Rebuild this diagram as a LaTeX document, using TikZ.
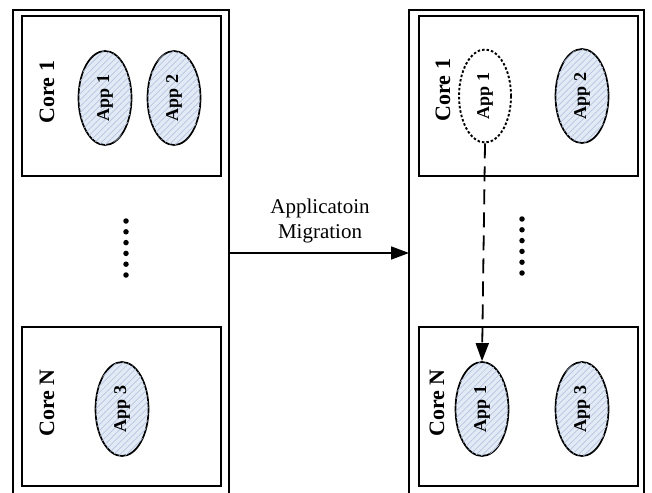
\documentclass[tikz,border=0pt]{standalone}
\usepackage{fontspec}
\setmainfont{Liberation Serif}
\usetikzlibrary{shapes.geometric,arrows.meta,patterns.meta}
\definecolor{appfill}{HTML}{E2EAF6}
\definecolor{apphatch}{HTML}{B6C5E0}
\tikzset{
  frame/.style={draw, line width=2pt, inner sep=0pt, outer sep=0pt},
  corebox/.style={frame, line width=1.9pt},
  app/.style={ellipse, draw, line width=1.7pt, minimum width=53pt, minimum height=94pt,
    inner sep=0pt, fill=appfill,
    postaction={pattern={Lines[angle=45,distance=4.5pt,line width=0.7pt]}, pattern color=apphatch}},
  ghost/.style={ellipse, draw, line width=1.9pt, dash pattern=on 2.5pt off 2pt,
    minimum width=52pt, minimum height=93pt, inner sep=0pt},
  applabel/.style={rotate=90, font=\bfseries\fontsize{18}{20}\selectfont, inner sep=0pt},
  corelabel/.style={rotate=90, font=\bfseries\fontsize{22}{24}\selectfont, inner sep=0pt},
  dotmark/.style={circle, fill=black, inner sep=0pt, minimum size=5.5pt},
  tip/.style={-{Triangle[length=18pt,width=13pt]}},
}
\begin{document}
\begin{tikzpicture}[x=1pt,y=-1pt]
\useasboundingbox (0,0) rectangle (652,492);

% processors
\node[frame, minimum width=216pt, minimum height=486pt] (lo) at (121,253) {};
\node[frame, minimum width=235pt, minimum height=486pt] (ro) at (526.5,253) {};

% cores
\node[corebox, minimum width=199pt, minimum height=160pt] (lc1) at (121.5,96) {};
\node[corebox, minimum width=199pt, minimum height=159pt] (lcn) at (121.5,406.5) {};
\node[corebox, minimum width=219pt, minimum height=160pt] (rc1) at (528.5,96) {};
\node[corebox, minimum width=219pt, minimum height=159pt] (rcn) at (528.5,406.5) {};

% core labels
\node[corelabel] (lc1t) at (47,92) {Core 1};
\node[corelabel] (lcnt) at (47,403) {Core N};
\node[corelabel] (rc1t) at (443,90) {Core 1};
\node[corelabel] (rcnt) at (437,403) {Core N};

% applications before migration
\node[app, label={[applabel]center:App 1}] (la1) at (105,98) {};
\node[app, label={[applabel]center:App 2}] (la2) at (174,98) {};
\node[app, label={[applabel]center:App 3}] (la3) at (122,409) {};

% applications after migration
\node[ghost, label={[applabel]center:App 1}] (ra1) at (485,96) {};
\node[app, label={[applabel]center:App 2}] (ra2) at (582,96) {};
\node[app, label={[applabel]center:App 1}] (rn1) at (482,409) {};
\node[app, label={[applabel]center:App 3}] (rn3) at (582,409) {};

% elided cores
\foreach \i in {0,...,5} {
  \node[dotmark] (ld\i) at (126,221+10.8*\i) {};
  \node[dotmark] (rd\i) at (522,219+10.8*\i) {};
}

% migration
\draw[line width=1.7pt, tip] (lo.east) -- (ro.west);
\node[align=center, font=\fontsize{21}{25}\selectfont] (mig) at (320,221) {Applicatoin\\Migration};
\draw[line width=1.8pt, dash pattern=on 15pt off 8pt, tip] (ra1.south) -- (rn1.north);
\end{tikzpicture}
\end{document}
